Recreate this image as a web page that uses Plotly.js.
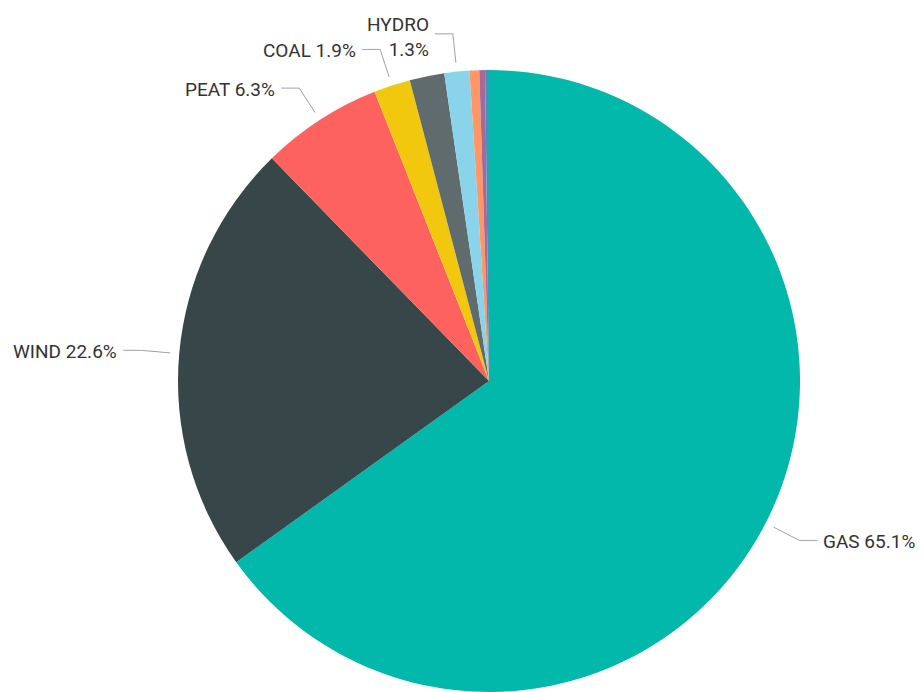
<!DOCTYPE html>
<html>
<head>
<meta charset="utf-8">
<script src="https://cdn.plot.ly/plotly-3.0.1.min.js"></script>
<style>html,body{margin:0;padding:0;background:#fff;}#chart{width:922px;height:692px;}</style>
</head>
<body>
<div id="chart"></div>
<script>
// Data (clockwise from 12 o'clock)
const labels = ['GAS', 'WIND', 'PEAT', 'COAL', 'OTHER', 'HYDRO', 'OIL', 'BIOENERGY', 'SOLAR'];
const values = [65.1, 22.6, 6.3, 1.9, 1.8, 1.3, 0.5, 0.3, 0.2];
const colors = ['#01B8AA', '#374649', '#FD625E', '#F2C80F', '#5F6B6D', '#8AD4EB', '#FE9666', '#A66999', '#3599B8'];
const showLabel = [true, true, true, true, false, true, false, false, false];
const breakLabel = [false, false, false, false, false, true, false, false, false];

const W = 922, H = 692;
const M = {l: 56, r: 0, t: 70, b: 0};
const pw = W - M.l - M.r, ph = H - M.t - M.b;
const cx = M.l + pw / 2, cy = M.t + ph / 2, R = Math.min(pw, ph) / 2;
const toX = px => (px - M.l) / pw;
const toY = py => 1 - (py - M.t) / ph;

const total = values.reduce((a, b) => a + b, 0);
const annotations = [], shapes = [];
let cum = 0;
values.forEach((v, i) => {
  const mid = (cum + v / 2) / total * 2 * Math.PI;
  cum += v;
  if (!showLabel[i]) return;
  const dx = Math.sin(mid), dy = -Math.cos(mid);
  const p1 = [cx + (R + 9) * dx, cy + (R + 9) * dy];
  const p2 = [cx + (R + 38) * dx, cy + (R + 38) * dy];
  const side = dx < 0 ? -1 : 1;
  const p3 = [p2[0] + side * 18, p2[1]];
  shapes.push({
    type: 'path', xref: 'paper', yref: 'paper',
    path: `M ${toX(p1[0])} ${toY(p1[1])} L ${toX(p2[0])} ${toY(p2[1])} L ${toX(p3[0])} ${toY(p3[1])}`,
    line: {color: '#a0a0a0', width: 1}
  });
  const txt = breakLabel[i] ? `${labels[i]}<br>${v.toFixed(1)}%` : `${labels[i]} ${v.toFixed(1)}%`;
  annotations.push({
    xref: 'paper', yref: 'paper',
    x: toX(p3[0] + side * 4), y: toY(p3[1] + (breakLabel[i] ? 3 : 1)),
    xanchor: side < 0 ? 'right' : 'left', yanchor: 'middle',
    align: side < 0 ? 'right' : 'left',
    text: txt, showarrow: false,
    font: {family: 'Roboto, sans-serif', size: 19, color: '#333333'}
  });
});

const trace = {
  type: 'pie',
  labels: labels,
  values: values,
  sort: false,
  direction: 'clockwise',
  rotation: 0,
  textinfo: 'none',
  hoverinfo: 'label+percent',
  marker: {colors: colors, line: {width: 0}},
  showlegend: false
};

const layout = {
  width: W, height: H,
  margin: M,
  paper_bgcolor: '#ffffff',
  plot_bgcolor: '#ffffff',
  showlegend: false,
  annotations: annotations,
  shapes: shapes
};

Plotly.newPlot('chart', [trace], layout, {displayModeBar: false, staticPlot: true});
</script>
</body>
</html>
